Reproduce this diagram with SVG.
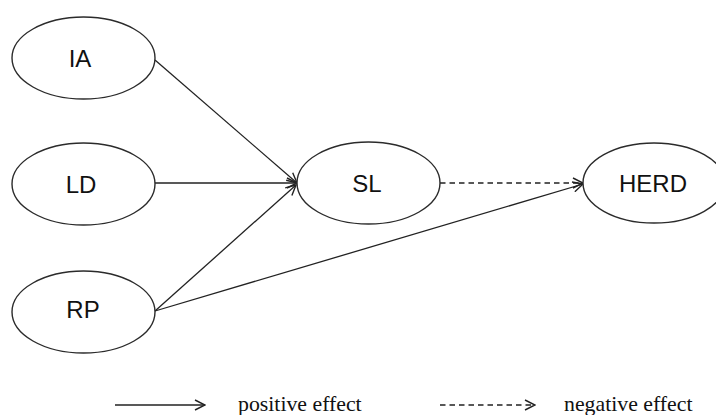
<svg xmlns="http://www.w3.org/2000/svg" width="716" height="415" viewBox="0 0 716 415">
  <style>
    .node ellipse { fill: #ffffff; stroke: #2b2b2b; stroke-width: 1.4; }
    .node text { font-family: "Liberation Sans", Arial, sans-serif; font-size: 24px; fill: #111; text-anchor: middle; }
    .edge { stroke: #222; stroke-width: 1.3; fill: none; marker-end: url(#arr); }
    .dash { stroke-dasharray: 5.5 4; }
    .legend { font-family: "Liberation Serif", "Times New Roman", serif; font-size: 21.8px; fill: #111; }
  </style>
  <defs>
    <marker id="arr" viewBox="0 0 12 12" refX="11" refY="6" markerWidth="12" markerHeight="12" markerUnits="userSpaceOnUse" orient="auto">
      <path d="M1,1 L11,6 L1,11" fill="none" stroke="#222" stroke-width="1.4"/>
    </marker>
  </defs>
  <rect width="716" height="415" fill="#ffffff"/>
  <g id="connectors">
    <line class="edge" x1="155" y1="60" x2="297" y2="183"/>
    <line class="edge" x1="155" y1="183" x2="297" y2="183"/>
    <line class="edge" x1="155" y1="311" x2="296" y2="185"/>
    <line class="edge" x1="155" y1="311" x2="583" y2="184"/>
    <line class="edge dash" x1="440" y1="183" x2="583" y2="183"/>
  </g>
  <g id="IA" class="node">
    <ellipse cx="83.5" cy="58" rx="71.5" ry="41"/>
    <text x="80" y="67">IA</text>
  </g>
  <g id="LD" class="node">
    <ellipse cx="83.5" cy="184" rx="71.5" ry="41"/>
    <text x="81" y="193">LD</text>
  </g>
  <g id="RP" class="node">
    <ellipse cx="83.5" cy="312" rx="71.5" ry="41"/>
    <text x="83" y="318">RP</text>
  </g>
  <g id="SL" class="node">
    <ellipse cx="368.5" cy="183" rx="71.5" ry="41"/>
    <text x="367" y="192">SL</text>
  </g>
  <g id="HERD" class="node">
    <ellipse cx="654" cy="183" rx="71" ry="40"/>
    <text x="653" y="192">HERD</text>
  </g>
  <g id="legend">
    <line class="edge" x1="115" y1="405" x2="205" y2="405"/>
    <text class="legend" x="238" y="411">positive effect</text>
    <line class="edge dash" x1="440" y1="405" x2="535" y2="405"/>
    <text class="legend" x="564" y="411">negative effect</text>
  </g>
</svg>
